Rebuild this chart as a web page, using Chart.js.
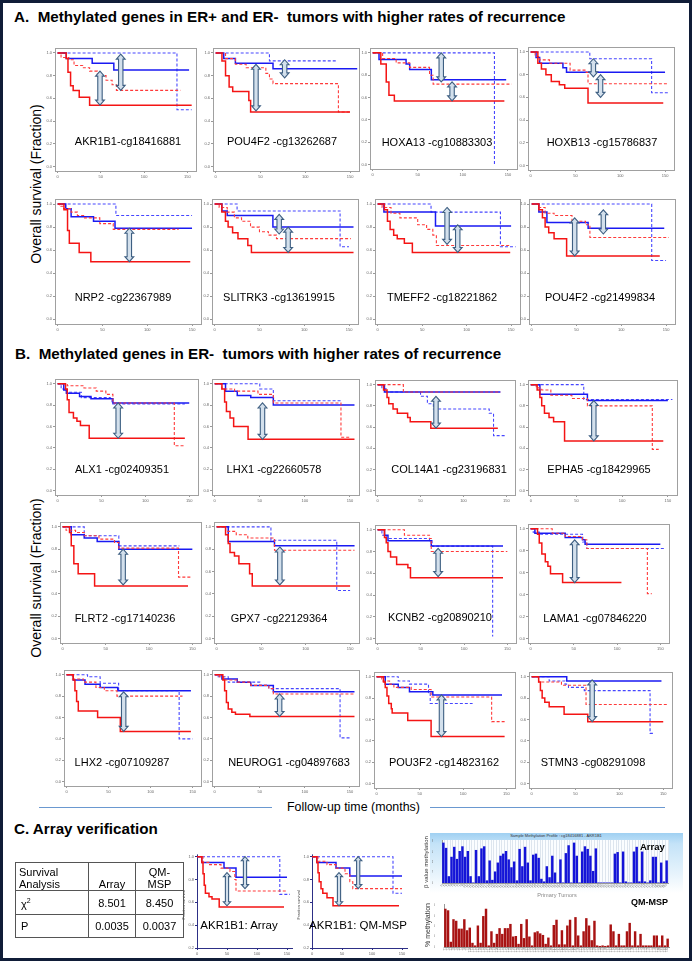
<!DOCTYPE html>
<html>
<head>
<meta charset="utf-8">
<title>Methylated genes and survival</title>
<script src="https://cdn.jsdelivr.net/npm/chart.js@4.4.1/dist/chart.umd.min.js"></script>
<style>
  html, body { margin: 0; padding: 0; background: #fff; }
  body { position: relative; width: 692px; height: 961px; overflow: hidden; font-family: "Liberation Sans", Arial, sans-serif; color: #000; }
  #frame { position: absolute; left: 0; top: 0; width: 686px; height: 955px; border: 3px solid #101d38; }
  .abs { position: absolute; white-space: pre; line-height: 1; }
  .head { font-weight: bold; font-size: 15.2px; }
  .lab { font-size: 11px; transform: translate(-50%, -50%); }
  .rot { transform: translate(-50%, -50%) rotate(-90deg); }
  .rule { position: absolute; height: 1px; background: #6a98d0; }
  canvas { position: absolute; }
  #tbl { position: absolute; left: 15px; top: 862px; border-collapse: collapse; font-size: 11px; }
  #tbl td { border: 1px solid #555; padding: 0 3px; line-height: 12px; }
  #arrBg { position: absolute; left: 430px; top: 833px; width: 253px; height: 60px;
           background: linear-gradient(to bottom, #9fd0f2 0%, #c4e3f8 18%, #e8f4fc 70%, #ffffff 100%); }
</style>
</head>
<body>
<div id="frame"></div>

<div class="abs head" style="left:14px;top:8.5px">A.  Methylated genes in ER+ and ER-  tumors with higher rates of recurrence</div>
<div class="abs head" style="left:15px;top:345.5px">B.  Methylated genes in ER-  tumors with higher rates of recurrence</div>
<div class="abs head" style="left:14px;top:820.5px">C. Array verification</div>

<div class="abs rot" style="left:36px;top:184px;font-size:14px">Overall survival (Fraction)</div>
<div class="abs rot" style="left:36px;top:578px;font-size:14px">Overall survival (Fraction)</div>

<div class="rule" style="left:39px;top:807px;width:233px"></div>
<div class="rule" style="left:430px;top:807px;width:235px"></div>
<div class="abs" style="left:287px;top:801px;font-size:12.4px">Follow-up time (months)</div>

<div id="arrBg"></div>
<div class="abs" style="left:556px;top:834px;font-size:4px;color:#333;transform:translateX(-50%)">Sample Methylation Profile : cg18416881 - AKR1B1</div>

<script>
// ---- data ----
const panelNames = [
  'AKR1B1-cg18416881', 'POU4F2 -cg13262687', 'HOXA13 -cg10883303', 'HOXB13 -cg15786837',
  'NRP2 -cg22367989', 'SLITRK3 -cg13619915', 'TMEFF2 -cg18221862', 'POU4F2 -cg21499834',
  'ALX1 -cg02409351', 'LHX1 -cg22660578', 'COL14A1 -cg23196831', 'EPHA5 -cg18429965',
  'FLRT2 -cg17140236', 'GPX7 -cg22129364', 'KCNB2 -cg20890210', 'LAMA1 -cg07846220',
  'LHX2 -cg07109287', 'NEUROG1 -cg04897683', 'POU3F2 -cg14823162', 'STMN3 -cg08291098',
  'AKR1B1: Array', 'AKR1B1: QM-MSP'
];
const xTicks = [0, 50, 100, 150];
const yTicks = [0, 0.2, 0.4, 0.6, 0.8, 1.0];
const yTicksC = [0.2, 0.4, 0.6, 0.8, 1.0];

// survival steps: [month, fraction surviving]
const redSolid = [
  [[0,1],[10,0.95],[12,0.83],[15,0.71],[18,0.67],[25,0.61],[37,0.54],[155,0.54]],
  [[0,1],[7,0.93],[11,0.8],[15,0.7],[19,0.66],[37,0.58],[39,0.48],[150,0.48]],
  [[0,1],[9,0.9],[15,0.74],[18,0.62],[24,0.57],[146,0.57]],
  [[0,1],[8,0.9],[12,0.85],[17,0.8],[23,0.74],[32,0.71],[38,0.68],[64,0.55],[148,0.55]],
  [[0,1],[7,0.95],[11,0.77],[13,0.66],[24,0.58],[37,0.5],[148,0.5]],
  [[0,1],[8,0.93],[12,0.85],[15,0.8],[20,0.75],[26,0.7],[37,0.64],[41,0.58],[155,0.58]],
  [[0,1],[7.5,0.95],[11,0.85],[14,0.78],[18,0.73],[22,0.7],[30,0.66],[39,0.58],[149,0.58]],
  [[0,1],[8,0.95],[12,0.88],[15,0.8],[19,0.75],[25,0.7],[39,0.55],[143,0.55]],
  [[0,1],[9,0.95],[11,0.85],[13,0.73],[18,0.68],[22,0.65],[26,0.61],[36,0.49],[145,0.49]],
  [[0,1],[8,0.95],[11,0.83],[13,0.74],[17,0.68],[21,0.6],[37,0.48],[155,0.48]],
  [[0,1],[7,0.95],[11,0.88],[13,0.82],[18,0.77],[23,0.73],[35,0.69],[38,0.65],[62,0.59],[140,0.59]],
  [[0,1],[7,0.95],[10,0.88],[12,0.8],[15,0.73],[20,0.69],[25,0.65],[37,0.47],[145,0.47]],
  [[0,1],[8,0.95],[10,0.83],[13,0.67],[18,0.58],[37,0.47],[145,0.47]],
  [[0,1],[10,0.93],[13,0.85],[15,0.77],[20,0.74],[25,0.67],[37,0.58],[40,0.47],[150,0.47]],
  [[0,1],[8,0.93],[10,0.88],[12,0.8],[15,0.75],[22,0.68],[35,0.65],[38,0.56],[145,0.56]],
  [[0,1],[8,0.95],[10,0.87],[13,0.77],[17,0.7],[20,0.66],[23,0.59],[37,0.51],[105,0.51]],
  [[0,1],[8,0.95],[10,0.85],[12,0.75],[14,0.66],[37,0.6],[64,0.47],[148,0.47]],
  [[0,1],[9,0.95],[11,0.85],[13,0.74],[15,0.68],[19,0.65],[23,0.63],[39,0.61],[155,0.61]],
  [[0,1],[8,0.95],[10,0.9],[12,0.82],[14,0.75],[17,0.7],[18,0.66],[36,0.59],[63,0.44],[148,0.44]],
  [[0,1],[8,0.95],[10,0.87],[12,0.8],[15,0.76],[20,0.72],[37,0.65],[64,0.58],[150,0.58]],
  [[0,1],[8,0.95],[10,0.85],[12,0.75],[14,0.68],[20,0.65],[25,0.63],[37,0.56],[145,0.56]],
  [[0,1],[8,0.95],[10,0.86],[12,0.78],[15,0.72],[18,0.68],[25,0.64],[35,0.57],[145,0.57]]
];
const redDash = [
  [[0,1],[4,0.96],[13,0.94],[19,0.89],[29,0.87],[37,0.84],[46,0.8],[56,0.76],[63,0.72],[68,0.67],[142,0.67]],
  [[0,1],[11,0.95],[22,0.9],[34,0.87],[56,0.82],[60,0.77],[64,0.73],[137,0.48],[150,0.48]],
  [[0,1],[11,0.95],[26,0.91],[41,0.87],[63,0.8],[67,0.72],[154,0.72]],
  [[0,1],[5,0.96],[10,0.93],[21,0.9],[44,0.84],[62,0.82],[64,0.72],[154,0.72]],
  [[0,1],[2,0.98],[6,0.96],[15,0.93],[22,0.9],[30,0.88],[47,0.83],[62,0.78],[135,0.78]],
  [[0,1],[5,0.97],[14,0.93],[22,0.88],[30,0.85],[40,0.8],[50,0.76],[60,0.73],[69,0.7],[152,0.7]],
  [[0,1],[5,0.97],[15,0.92],[25,0.88],[45,0.82],[55,0.78],[62,0.73],[66,0.64],[150,0.64]],
  [[0,1],[8,0.97],[15,0.92],[25,0.9],[45,0.85],[60,0.82],[65,0.71],[153,0.71]],
  [[0,1],[11,0.98],[30,0.96],[44,0.93],[55,0.9],[63,0.82],[133,0.42],[145,0.42]],
  [[0,1],[8,0.95],[22,0.93],[48,0.9],[65,0.82],[140,0.5],[150,0.5]],
  [[0,1],[30,0.93],[143,0.93]],
  [[0,1],[6,0.97],[12,0.95],[22,0.9],[45,0.87],[62,0.8],[133,0.39],[140,0.39]],
  [[0,1],[4,0.97],[15,0.95],[25,0.92],[42,0.89],[60,0.86],[65,0.81],[134,0.55],[150,0.55]],
  [[0,1],[10,0.96],[22,0.93],[35,0.9],[65,0.79],[155,0.79]],
  [[0,1],[31,0.95],[60,0.92],[62,0.8],[150,0.8]],
  [[0,1],[25,0.96],[40,0.93],[60,0.9],[65,0.82],[135,0.41],[140,0.41]],
  [[0,1],[7,0.96],[20,0.93],[35,0.88],[45,0.85],[60,0.8],[138,0.8]],
  [[0,1],[5,0.98],[10,0.95],[25,0.93],[40,0.9],[60,0.87],[65,0.82],[155,0.82]],
  [[0,1],[6,0.96],[15,0.93],[20,0.9],[40,0.88],[63,0.81],[133,0.58],[150,0.58]],
  [[0,1],[8,0.95],[34,0.92],[62,0.74],[155,0.74]],
  [[0,1],[10,0.95],[20,0.93],[40,0.9],[55,0.87],[63,0.8],[65,0.7],[150,0.7]],
  [[0,1],[10,0.96],[25,0.93],[40,0.9],[55,0.85],[63,0.78],[68,0.72],[150,0.72]]
];
const blueSolid = [
  [[0,1],[10,0.95],[40,0.91],[65,0.85],[152,0.85]],
  [[0,1],[9,0.95],[22,0.91],[64,0.86],[158,0.86]],
  [[0,1],[7,0.94],[37,0.9],[41,0.85],[65,0.76],[148,0.76]],
  [[0,1],[6,0.95],[10,0.9],[36,0.86],[40,0.82],[150,0.82]],
  [[0,1],[9,0.96],[15,0.89],[40,0.85],[64,0.79],[150,0.79]],
  [[0,1],[8,0.94],[14,0.9],[65,0.8],[155,0.8]],
  [[0,1],[7,0.93],[65,0.81],[150,0.81]],
  [[0,1],[8,0.93],[17,0.84],[63,0.79],[148,0.79]],
  [[0,1],[7,0.94],[10,0.91],[25,0.88],[38,0.86],[63,0.82],[150,0.82]],
  [[0,1],[12,0.93],[25,0.89],[40,0.87],[65,0.8],[155,0.8]],
  [[0,1],[8,0.93],[143,0.93]],
  [[0,1],[10,0.91],[62,0.85],[150,0.85]],
  [[0,1],[10,0.93],[25,0.9],[40,0.87],[65,0.8],[150,0.8]],
  [[0,1],[13,0.87],[65,0.83],[155,0.83]],
  [[0,1],[8,0.95],[12,0.9],[62,0.85],[145,0.85]],
  [[0,1],[5,0.96],[40,0.92],[60,0.9],[63,0.86],[150,0.86]],
  [[0,1],[8,0.95],[22,0.91],[40,0.88],[61,0.85],[148,0.85]],
  [[0,1],[8,0.96],[25,0.93],[40,0.9],[65,0.84],[155,0.84]],
  [[0,1],[10,0.93],[25,0.9],[38,0.86],[65,0.83],[145,0.83]],
  [[0,1],[40,0.96],[148,0.96]],
  [[0,1],[8,0.95],[45,0.9],[65,0.82],[150,0.82]],
  [[0,1],[8,0.95],[40,0.9],[63,0.83],[150,0.83]]
];
const blueDash = [
  [[0,1],[138,0.5],[155,0.5]],
  [[0,1],[60,0.93],[135,0.93]],
  [[0,1],[135,0.0]],
  [[0,1],[66,0.94],[135,0.64],[155,0.64]],
  [[0,1],[65,0.9],[150,0.9]],
  [[0,1],[25,0.94],[140,0.63],[150,0.63]],
  [[0,1],[60,0.93],[138,0.63],[155,0.63]],
  [[0,1],[134,0.51],[150,0.51]],
  [[0,1],[4,0.95],[10,0.92],[27,0.87],[60,0.85],[62,0.81],[145,0.81]],
  [[0,1],[50,0.95],[65,0.84],[140,0.84]],
  [[0,1],[5,0.96],[10,0.93],[50,0.89],[58,0.82],[65,0.77],[130,0.73],[135,0.52],[150,0.52]],
  [[0,1],[58,0.86],[155,0.86]],
  [[0,1],[25,0.92],[65,0.83],[135,0.83]],
  [[0,1],[61,0.88],[135,0.43],[150,0.43]],
  [[0,1],[5,0.95],[10,0.92],[60,0.9],[63,0.85],[133,0.02]],
  [[0,1],[3,0.97],[10,0.95],[60,0.88],[65,0.82],[155,0.82]],
  [[0,1],[25,0.98],[40,0.92],[62,0.85],[134,0.4],[150,0.4]],
  [[0,1],[3,0.98],[15,0.93],[50,0.9],[60,0.87],[139,0.41],[150,0.41]],
  [[0,1],[25,0.96],[38,0.93],[60,0.85],[62,0.75],[111,0.75]],
  [[0,1],[20,0.96],[38,0.93],[42,0.9],[60,0.87],[135,0.47],[140,0.47]],
  [[0,1],[138,0.67],[155,0.67]],
  [[0,1],[135,0.68],[150,0.68]]
];
// double arrows: [month, upper fraction, lower fraction]
const arrowMarks = [
  [[49,0.84,0.54],[73,0.99,0.67]], [[45,0.9,0.49],[77,0.94,0.78]],
  [[76,1.0,0.74],[88,0.74,0.57]], [[70,0.94,0.78],[78,0.8,0.6]],
  [[80,0.79,0.5]], [[72,0.91,0.74],[82,0.8,0.58]],
  [[78,0.97,0.65],[90,0.82,0.58]], [[48,0.88,0.55],[80,0.95,0.74]],
  [[69,0.82,0.49]], [[53,0.82,0.48]], [[68,0.89,0.59]], [[69,0.85,0.47]],
  [[70,0.8,0.48]], [[71,0.82,0.48]], [[70,0.83,0.57]], [[51,0.9,0.51]],
  [[68,0.84,0.47]], [[72,0.82,0.61]], [[75,0.83,0.44]], [[69,0.97,0.58]],
  [[50,0.86,0.57],[80,1.0,0.72]], [[45,0.86,0.57],[77,1.0,0.72]]
];

// panel C table
const tableHead = ['Survival\nAnalysis', 'Array', 'QM-\nMSP'];
const tableRows = [['χ²', '8.501', '8.450'], ['P', '0.0035', '0.0037']];

// panel C bars, one value per primary tumor
const arrayBeta = [0.77,0.67,0.13,0.50,0.69,0.46,0.61,0.70,0.50,0.61,0.13,0.01,0.63,0.13,0.66,0.70,0.05,0.43,0.06,0.22,
  0.39,0.52,0.56,0.61,0.45,0.30,0.41,0.05,0.65,0.32,0.69,0.39,0.05,0.54,0.56,0.48,0.08,0.03,0.32,0.11,
  0.52,0.20,0.01,0.45,0.01,0.57,0.72,0.01,0.77,0.52,0.01,0.60,0.70,0.65,0.52,0.23,0.66,0.01,0.01,0.01,
  0.01,0.01,0.01,0.56,0.59,0.01,0.60,0.03,0.01,0.01,0.60,0.69,0.03,0.60,0.03,0.01,0.05,0.50,0.50,0.01,
  0.39,0.03,0.43];
const qmspPct = [73,70,10,53,50,35,35,53,32,37,8,3,41,8,59,73,3,30,8,25,
  36,25,36,36,44,20,21,6,44,17,53,20,3,28,30,26,23,6,18,3,
  42,52,5,32,5,41,52,3,57,22,3,30,55,41,13,50,3,2,3,2,
  3,43,30,3,25,3,3,30,46,3,30,3,25,3,3,3,3,22,22,3,
  22,3,16];
const arrayTicks = [0, 0.2, 0.4, 0.6, 0.8];
const qmspTicks = [0, 20, 40, 60, 80];

// ---- layout: [x at 0 mo, x at 150 mo, y at 1.0, y at bottom ref] in page pixels ----
const geo = [
  [58,188,52,167], [216,350,52,167], [373,508,52,165], [531,665,51,166],
  [58,192,203,320], [215,349,203,320], [378,511,203,320], [532,666,203,320],
  [58,190,382,490], [215,350,382,490], [378,507,383,490], [531,668,383,490],
  [63,193,526,639], [217,350,526,639], [378,508,528,638], [531,661,527,638],
  [67,193,673,781], [215,350,673,781], [377,507,675,783], [532,664,675,783],
  [197,287,855,948], [312,402,855,948]
];
const labelPos = [
  [128,141],[282,141],[437,142],[602,142],
  [123,297],[279,297],[442,297],[600,297],
  [122,469],[274,469],[449,469],[599,469],
  [125,618],[279,618],[440,617],[595,618],
  [122,762],[289,762],[444,762],[593,762],
  [239,926],[358,926]
];

Chart.defaults.font.family = '"Liberation Sans", Arial, sans-serif';

function addDiv(cls, text, style) {
  const d = document.createElement('div');
  d.className = cls;
  d.textContent = text;
  d.setAttribute('style', style);
  document.body.appendChild(d);
  return d;
}

const boxPlugin = {
  id: 'kmBox',
  beforeDatasetsDraw(chart, args, o) {
    const { ctx, chartArea: a } = chart;
    ctx.save();
    ctx.lineWidth = 1;
    if (o.style === 'axes') {
      ctx.strokeStyle = '#2d2f86';
      ctx.beginPath();
      ctx.moveTo(a.left + 0.5, a.top);
      ctx.lineTo(a.left + 0.5, a.bottom + 0.5);
      ctx.lineTo(a.right, a.bottom + 0.5);
      ctx.stroke();
    } else {
      ctx.strokeStyle = '#a0a0a0';
      ctx.strokeRect(Math.round(a.left) + 0.5, Math.round(a.top) + 0.5,
        Math.round(a.right - a.left), Math.round(a.bottom - a.top));
    }
    ctx.restore();
  }
};

const arrowPlugin = {
  id: 'kmArrows',
  afterDatasetsDraw(chart, args, o) {
    const { ctx, scales: { x, y } } = chart;
    const sw = o.small ? 1.6 : 2.2, hw = o.small ? 3.6 : 4.4, hl = o.small ? 4 : 5;
    ctx.save();
    (o.list || []).forEach(m => {
      const px = x.getPixelForValue(m[0]);
      const y1 = y.getPixelForValue(m[1]);
      const y2 = y.getPixelForValue(m[2]);
      ctx.beginPath();
      ctx.moveTo(px, y1);
      ctx.lineTo(px + hw, y1 + hl);
      ctx.lineTo(px + sw, y1 + hl);
      ctx.lineTo(px + sw, y2 - hl);
      ctx.lineTo(px + hw, y2 - hl);
      ctx.lineTo(px, y2);
      ctx.lineTo(px - hw, y2 - hl);
      ctx.lineTo(px - sw, y2 - hl);
      ctx.lineTo(px - sw, y1 + hl);
      ctx.lineTo(px - hw, y1 + hl);
      ctx.closePath();
      ctx.fillStyle = '#d3e0ec';
      ctx.fill();
      ctx.lineWidth = 1.1;
      ctx.strokeStyle = '#3e5f82';
      ctx.stroke();
    });
    ctx.restore();
  }
};

function curve(pts, color, w, dash) {
  return {
    data: pts.map(p => ({ x: p[0], y: p[1] })),
    stepped: true, borderColor: color, borderWidth: w, borderDash: dash,
    pointRadius: 0, fill: false
  };
}

function kmChart(i) {
  const g = geo[i];
  const small = i >= 20;
  const yRef = small ? 0.2 : 0;
  const xMin = small ? 0 : -3, xMax = 160;
  const yMin = small ? 0.2 : -0.04, yMax = small ? 1.02 : 1.04;
  const pxm = (g[1] - g[0]) / 150;
  const pyu = (g[3] - g[2]) / (1 - yRef);
  const yPix = v => g[2] + (1 - v) * pyu;
  const boxL = g[0] + xMin * pxm, boxR = g[0] + xMax * pxm;
  const boxT = yPix(yMax), boxB = yPix(yMin);
  const padL = 13, padR = 2, padT = 2, padB = 11;

  const cv = document.createElement('canvas');
  const cw = Math.round(boxR - boxL) + padL + padR;
  const ch = Math.round(boxB - boxT) + padT + padB;
  cv.width = cw; cv.height = ch;
  cv.style.left = (boxL - padL) + 'px';
  cv.style.top = (boxT - padT) + 'px';
  document.body.appendChild(cv);

  new Chart(cv, {
    type: 'line',
    data: {
      datasets: [
        curve(redSolid[i], '#f41414', 1.5, []),
        curve(redDash[i], '#ff3a3a', 1.1, [3, 2]),
        curve(blueSolid[i], '#1a1af2', 1.5, []),
        curve(blueDash[i], '#4646ff', 1.1, [3, 2])
      ]
    },
    options: {
      responsive: false, animation: false, devicePixelRatio: 1,
      layout: { padding: { top: padT, right: padR, left: 0, bottom: 0 } },
      plugins: {
        legend: { display: false }, tooltip: { enabled: false },
        kmArrows: { list: arrowMarks[i], small: small },
        kmBox: { style: small ? 'axes' : 'box' }
      },
      scales: {
        x: {
          type: 'linear', min: xMin, max: xMax,
          afterFit: s => { s.height = padB; },
          afterBuildTicks: s => { s.ticks = xTicks.map(v => ({ value: v })); },
          ticks: { font: { size: 4 }, color: '#666', padding: 1, maxRotation: 0 },
          grid: { drawOnChartArea: false, tickLength: 2, color: small ? '#2d2f86' : '#999' },
          border: { display: false }
        },
        y: {
          type: 'linear', min: yMin, max: yMax,
          afterFit: s => { s.width = padL; },
          afterBuildTicks: s => { s.ticks = (small ? yTicksC : yTicks).map(v => ({ value: v })); },
          ticks: { font: { size: 4 }, color: '#666', padding: 1, callback: v => v.toFixed(1) },
          grid: { drawOnChartArea: false, tickLength: 2, color: small ? '#2d2f86' : '#999' },
          border: { display: false }
        }
      }
    },
    plugins: [boxPlugin, arrowPlugin]
  });

  addDiv('abs lab', panelNames[i],
    'left:' + labelPos[i][0] + 'px;top:' + labelPos[i][1] + 'px;font-size:' + (small ? 11.5 : 11) + 'px');
  if (small) {
    addDiv('abs rot', 'Fraction survival',
      'left:' + (g[0] - 13) + 'px;top:905px;font-size:4px;color:#444');
  }
}

for (let i = 0; i < panelNames.length; i++) kmChart(i);

// ---- table ----
const tbl = document.createElement('table');
tbl.id = 'tbl';
const rowH = [28, 24, 23];
const colW = [64, 40, 41];
[tableHead].concat(tableRows).forEach((row, r) => {
  const tr = document.createElement('tr');
  tr.style.height = rowH[r] + 'px';
  row.forEach((txt, c) => {
    const td = document.createElement('td');
    td.style.width = colW[c] + 'px';
    td.style.textAlign = c === 0 ? 'left' : 'center';
    td.style.verticalAlign = r === 0 ? 'bottom' : 'middle';
    if (c === 0 && r > 0) td.style.paddingLeft = '5px';
    td.innerHTML = txt.replace('\n', '<br>').replace('²', '<sup style="font-size:7px">2</sup>');
    tr.appendChild(td);
  });
  tbl.appendChild(tr);
});
document.body.appendChild(tbl);

// ---- bar charts ----
const tumorIds = arrayBeta.map((_, k) => 'T' + (k + 1));

const whiteArea = {
  id: 'whiteArea',
  beforeDraw(chart, args, o) {
    if (!o.on) return;
    const { ctx, chartArea: a } = chart;
    ctx.save();
    ctx.fillStyle = '#fbfdff';
    ctx.fillRect(a.left, a.top, a.right - a.left, a.bottom - a.top);
    ctx.restore();
  }
};

function barChart(vals, area, yMax, yt, fill, rot, bg) {
  const padL = 10, padB = 9, padT = 4, padR = 4;
  const cv = document.createElement('canvas');
  cv.width = Math.round(area.R - area.L) + padL + padR;
  cv.height = Math.round(area.B - area.T) + padT + padB;
  cv.style.left = (area.L - padL) + 'px';
  cv.style.top = (area.T - padT) + 'px';
  document.body.appendChild(cv);
  new Chart(cv, {
    type: 'bar',
    data: {
      labels: tumorIds,
      datasets: [{ data: vals, backgroundColor: fill, borderWidth: 0,
                   barPercentage: 0.9, categoryPercentage: 1 }]
    },
    options: {
      responsive: false, animation: false, devicePixelRatio: 1,
      layout: { padding: { top: padT, right: padR, left: 0, bottom: 0 } },
      plugins: { legend: { display: false }, tooltip: { enabled: false }, whiteArea: { on: bg } },
      scales: {
        x: {
          afterFit: s => { s.height = padB; },
          ticks: { font: { size: 3 }, color: '#888', autoSkip: false, minRotation: rot, maxRotation: rot, padding: 0 },
          grid: { display: bg, color: '#dde5ee', drawTicks: false },
          border: { color: '#999' }
        },
        y: {
          min: 0, max: yMax,
          afterFit: s => { s.width = padL; },
          afterBuildTicks: s => { s.ticks = yt.map(v => ({ value: v })); },
          ticks: { font: { size: 3.5 }, color: '#666', padding: 1 },
          grid: { display: false },
          border: { color: '#999' }
        }
      }
    },
    plugins: [whiteArea]
  });
}

barChart(arrayBeta, { L: 442, R: 668, T: 840, B: 882.5 }, 0.82, arrayTicks, '#1414d8', 45, true);
barChart(qmspPct, { L: 443.5, R: 668.5, T: 904, B: 946.7 }, 82, qmspTicks, '#a81212', 90, false);

addDiv('abs', 'Array', 'left:640px;top:842px;font-size:9.5px;font-weight:bold');
addDiv('abs', 'QM-MSP', 'left:631px;top:897.5px;font-size:9px;font-weight:bold');
addDiv('abs', 'Primary Tumors', 'left:557px;top:892.5px;font-size:5.6px;color:#8a8a8a;transform:translateX(-50%)');
addDiv('abs rot', 'β value methylation', 'left:426px;top:862px;font-size:6px;color:#333');
addDiv('abs rot', '% methylation', 'left:427px;top:925px;font-size:7px;color:#333');
</script>
</body>
</html>
